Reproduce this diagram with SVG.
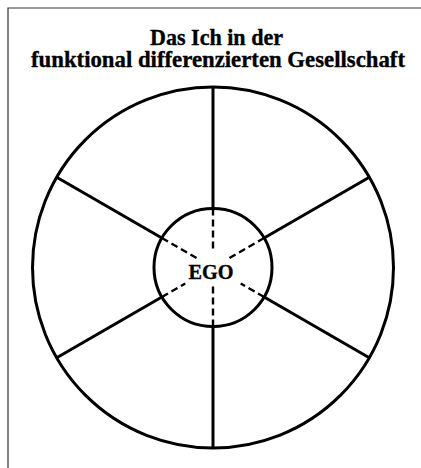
<svg xmlns="http://www.w3.org/2000/svg" width="421" height="468" viewBox="0 0 421 468">
<style>
.t{font-family:"Liberation Serif","Times New Roman",serif;font-weight:bold;fill:#000;stroke:#000;stroke-width:0.35;text-anchor:middle}
.ln{stroke:#000;stroke-width:3;fill:none;stroke-linecap:butt}
.ds{stroke:#000;stroke-width:2.4;fill:none;stroke-dasharray:7 4}
</style>
<rect width="421" height="468" fill="#fff"/>
<path d="M8 468 V8 H421" stroke="#333" stroke-width="1.2" fill="none"/>
<g id="title">
<text class="t" x="216.5" y="44.5" font-size="23.5" textLength="133" lengthAdjust="spacingAndGlyphs">Das Ich in der</text>
<text class="t" x="218" y="66.5" font-size="23.5" textLength="374" lengthAdjust="spacingAndGlyphs">funktional differenzierten Gesellschaft</text>
</g>
<g id="society">
<circle class="ln" cx="213" cy="267.5" r="180.5"/>
</g>
<g id="ego">
<circle class="ln" cx="213" cy="267.5" r="59"/>
<text class="t" x="211" y="278.5" font-size="20.5" textLength="45" lengthAdjust="spacingAndGlyphs">EGO</text>
</g>
<g id="connectors">
<line class="ln" x1="213" y1="208.5" x2="213" y2="87"/>
<line class="ln" x1="264.1" y1="238" x2="369.3" y2="177.25"/>
<line class="ln" x1="264.1" y1="297" x2="369.3" y2="357.75"/>
<line class="ln" x1="213" y1="326.5" x2="213" y2="448"/>
<line class="ln" x1="161.9" y1="297" x2="56.7" y2="357.75"/>
<line class="ln" x1="161.9" y1="238" x2="56.7" y2="177.25"/>
<line class="ds" x1="213" y1="208.5" x2="213" y2="252.5"/>
<line class="ds" x1="213" y1="326.5" x2="213" y2="284.5"/>
<line class="ds" x1="161.9" y1="238" x2="197.4" y2="258.5"/>
<line class="ds" x1="264.1" y1="238" x2="228.6" y2="258.5"/>
<line class="ds" x1="161.9" y1="297" x2="185.3" y2="283.5"/>
<line class="ds" x1="264.1" y1="297" x2="240.7" y2="283.5"/>
</g>
</svg>
